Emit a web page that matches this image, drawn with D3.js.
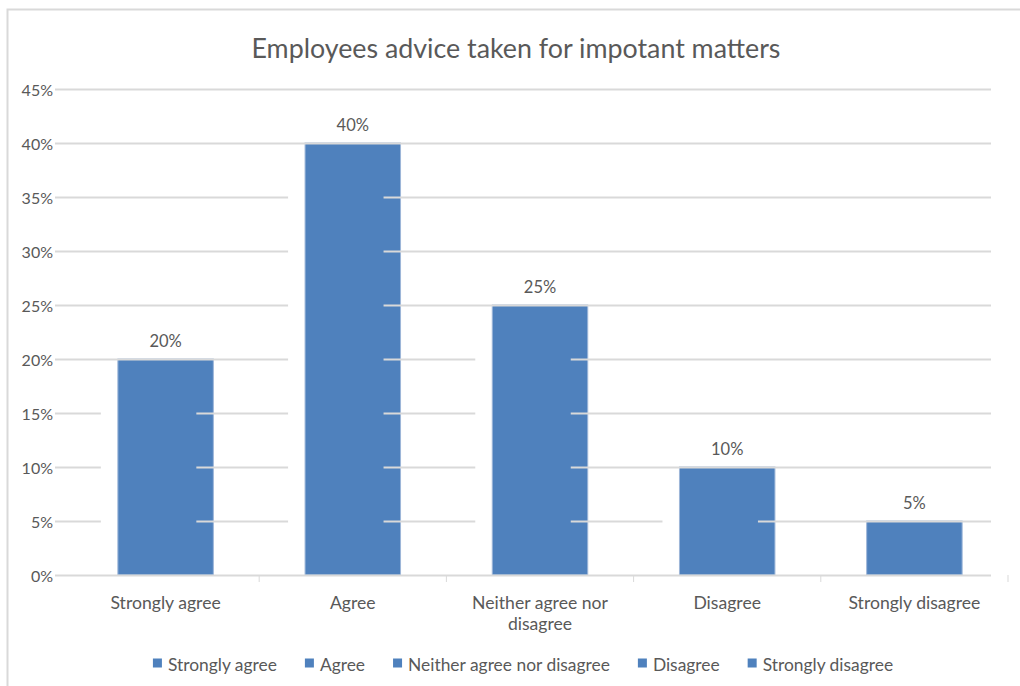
<!DOCTYPE html>
<html>
<head>
<meta charset="utf-8">
<script src="https://cdn.jsdelivr.net/npm/d3@7"></script>
<style>
  body { margin: 0; background: #fff; }
  text { font-family: Lato, "Open Sans", sans-serif; fill: #595959; }
</style>
</head>
<body>
<div id="chart"></div>
<script>
// chart data
const categories = ["Strongly agree", "Agree", "Neither agree nor disagree", "Disagree", "Strongly disagree"];
const axisLabels = [["Strongly agree"], ["Agree"], ["Neither agree nor", "disagree"], ["Disagree"], ["Strongly disagree"]];
const values = [0.20, 0.40, 0.25, 0.10, 0.05];
const yTicks = [0, 0.05, 0.10, 0.15, 0.20, 0.25, 0.30, 0.35, 0.40, 0.45];
const title = "Employees advice taken for impotant matters";

const W = 1020, H = 686;
const barColor = "#4f81bd";
const gridColor = "#d9d9d9";
const shift = -17; // gridlines are offset a little to the left of the bars

const svg = d3.select('#chart').append('svg')
  .attr('width', W)
  .attr('height', H);

// outer frame
svg.append('path')
  .attr('d', 'M7.5,' + H + 'V9.5H' + W)
  .attr('fill', 'none')
  .attr('stroke', '#d9d9d9')
  .attr('stroke-width', 2);

const x = d3.scaleBand()
  .domain(categories)
  .range([72, 1008])
  .paddingInner(0.49)
  .paddingOuter(0.245);

const y = d3.scaleLinear()
  .domain([0, 0.45])
  .range([575, 89]);

svg.append('text')
  .attr('x', 516)
  .attr('y', 48)
  .attr('text-anchor', 'middle')
  .attr('dominant-baseline', 'central')
  .style('font-size', '26.8px')
  .text(title);

// bars
svg.append('g').selectAll('rect')
  .data(values)
  .join('rect')
  .attr('x', (d, i) => x(categories[i]))
  .attr('y', d => y(d))
  .attr('width', x.bandwidth())
  .attr('height', d => y(0) - y(d))
  .attr('fill', barColor)
  .attr('stroke', '#9db6d8')
  .attr('stroke-width', 1);

// mask that hides the gridlines behind a shifted copy of each bar
const defs = svg.append('defs');
const mask = defs.append('mask').attr('id', 'gridmask')
  .attr('maskUnits', 'userSpaceOnUse')
  .attr('x', 0).attr('y', 0).attr('width', W).attr('height', H);
mask.append('rect').attr('width', W).attr('height', H).attr('fill', '#fff');
mask.selectAll('rect.g')
  .data(values)
  .join('rect')
  .attr('class', 'g')
  .attr('x', (d, i) => x(categories[i]) + shift)
  .attr('y', d => y(d) + 2)
  .attr('width', x.bandwidth())
  .attr('height', d => y(0) - y(d) - 2)
  .attr('fill', '#000');

// gridlines
svg.append('g')
  .attr('mask', 'url(#gridmask)')
  .selectAll('line')
  .data(yTicks.filter(t => t > 0))
  .join('line')
  .attr('x1', x.range()[0] + shift)
  .attr('x2', x.range()[1] + shift)
  .attr('y1', d => Math.round(y(d)) + 0.5)
  .attr('y2', d => Math.round(y(d)) + 0.5)
  .attr('stroke', gridColor)
  .attr('stroke-width', 2);

// baseline
svg.append('line')
  .attr('x1', x.range()[0] + shift)
  .attr('x2', x.range()[1] + shift)
  .attr('y1', y(0) + 0.5)
  .attr('y2', y(0) + 0.5)
  .attr('stroke', gridColor)
  .attr('stroke-width', 2);

// category boundary ticks
svg.append('g').selectAll('line')
  .data(categories)
  .join('line')
  .attr('x1', d => x(d) + x.bandwidth() + x.step() * x.paddingInner() / 2)
  .attr('x2', d => x(d) + x.bandwidth() + x.step() * x.paddingInner() / 2)
  .attr('y1', y(0))
  .attr('y2', y(0) + 7)
  .attr('stroke', gridColor)
  .attr('stroke-width', 1);

// y tick labels
svg.append('g').selectAll('text')
  .data(yTicks)
  .join('text')
  .attr('x', 53)
  .attr('y', d => y(d))
  .attr('text-anchor', 'end')
  .attr('dominant-baseline', 'central')
  .style('font-size', '16px')
  .text(d3.format('.0%'));

// data labels
svg.append('g').selectAll('text')
  .data(values)
  .join('text')
  .attr('x', (d, i) => x(categories[i]) + x.bandwidth() / 2)
  .attr('y', d => y(d) - 18)
  .attr('text-anchor', 'middle')
  .attr('dominant-baseline', 'central')
  .style('font-size', '16.5px')
  .text(d3.format('.0%'));

// category labels
const cl = svg.append('g').selectAll('text')
  .data(axisLabels)
  .join('text')
  .attr('text-anchor', 'middle')
  .style('font-size', '17.6px');
cl.each(function (lines, i) {
  d3.select(this).selectAll('tspan')
    .data(lines)
    .join('tspan')
    .attr('x', x(categories[i]) + x.bandwidth() / 2)
    .attr('y', (l, j) => 602 + j * 21)
    .attr('dominant-baseline', 'central')
    .text(l => l);
});

// legend
const legend = svg.append('g');
const items = legend.selectAll('g')
  .data(categories)
  .join('g');
items.append('rect')
  .attr('width', 9).attr('height', 9)
  .attr('y', -5.5)
  .attr('fill', barColor);
items.append('text')
  .attr('x', 15)
  .attr('y', 0)
  .attr('dominant-baseline', 'central')
  .style('font-size', '17.4px')
  .text(d => d);
let lx = 0;
items.each(function () {
  const w = this.querySelector('text').getComputedTextLength();
  d3.select(this).attr('transform', 'translate(' + lx + ',0)');
  lx += 15 + w + 28;
});
lx -= 28;
legend.attr('transform', 'translate(' + (523 - lx / 2) + ',664)');
</script>
</body>
</html>
